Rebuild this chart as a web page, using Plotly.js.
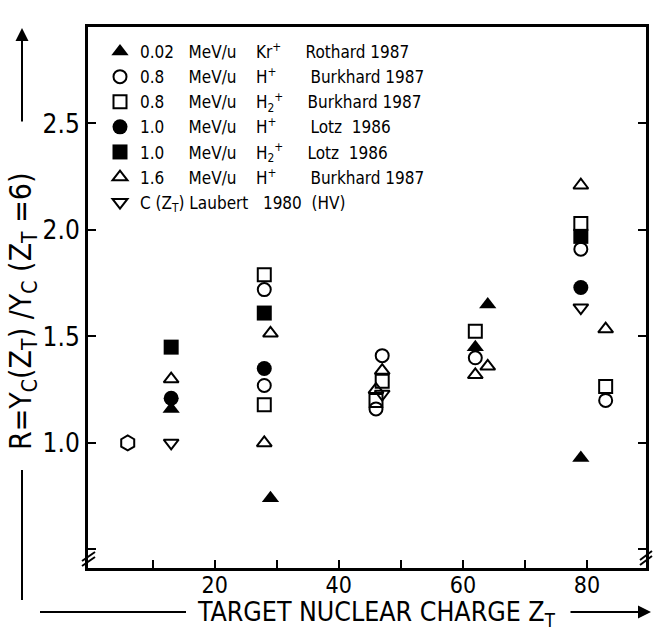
<!DOCTYPE html>
<html><head><meta charset="utf-8">
<script src="https://cdn.plot.ly/plotly-3.0.1.min.js"></script>
<style>html,body{margin:0;padding:0;background:#fff}</style>
</head><body><div id="chart" style="width:653px;height:633px"></div>
<script>
// ---- data (Z_T, R) ----
const krZ = [13, 29, 62, 64, 79];
const krR = [1.16, 0.74, 1.45, 1.65, 0.93];
const h08Z = [28, 28, 46, 47, 62, 79, 83];
const h08R = [1.27, 1.72, 1.16, 1.41, 1.40, 1.91, 1.20];
const h2_08Z = [28, 28, 46, 47, 62, 79, 83];
const h2_08R = [1.18, 1.79, 1.20, 1.29, 1.525, 2.03, 1.265];
const h10Z = [13, 28, 79];
const h10R = [1.21, 1.35, 1.73];
const h2_10Z = [13, 28, 79];
const h2_10R = [1.45, 1.61, 1.97];
const h16Z = [13, 28, 29, 46, 47, 62, 64, 79, 83];
const h16R = [1.30, 1.0, 1.515, 1.25, 1.34, 1.32, 1.36, 2.21, 1.535];
const laubZ = [13, 47, 79];
const laubR = [1.0, 1.23, 1.635];
const refZ = [6];
const refR = [1.0];

const NB = '\u00a0';
const sp = n => NB.repeat(n);
const seriesLabels = [
  '0.02' + sp(3) + 'MeV/u' + sp(4) + 'Kr<sup>+</sup>' + sp(5) + 'Rothard 1987',
  '0.8' + sp(5) + 'MeV/u' + sp(4) + 'H<sup>+</sup>' + sp(7) + 'Burkhard 1987',
  '0.8' + sp(5) + 'MeV/u' + sp(4) + 'H<sub>2</sub><sup>+</sup>' + sp(5) + 'Burkhard 1987',
  '1.0' + sp(5) + 'MeV/u' + sp(4) + 'H<sup>+</sup>' + sp(7) + 'Lotz' + sp(2) + '1986',
  '1.0' + sp(5) + 'MeV/u' + sp(4) + 'H<sub>2</sub><sup>+</sup>' + sp(5) + 'Lotz' + sp(2) + '1986',
  '1.6' + sp(5) + 'MeV/u' + sp(4) + 'H<sup>+</sup>' + sp(7) + 'Burkhard 1987',
  'C' + sp(1) + '(Z<sub>T</sub>)' + sp(1) + 'Laubert' + sp(3) + '1980' + sp(2) + '(HV)'
];
const xTickVals = [10, 20, 30, 40, 50, 60, 70, 80];
const xTickText = ['', '20', '', '40', '', '60', '', '80'];
const yTickVals = [0.5, 1.0, 1.5, 2.0, 2.5];
const yTickText = ['', '1.0', '1.5', '2.0', '2.5'];

const FONT = '"DejaVu Sans Condensed", "DejaVu Sans", sans-serif';

function tr(name, z, r, symbol, filled, show, size) {
  return {
    type: 'scatter', mode: 'markers', x: z, y: r, name: name, showlegend: show,
    hoverinfo: 'skip', cliponaxis: false,
    marker: { symbol: symbol, size: size || (filled ? 15 : 13), color: '#000',
      line: { color: '#000', width: filled ? 0 : 2 } }
  };
}

const data = [
  tr('ref', refZ, refR, 'hexagon-open', false, false, 15),
  tr(seriesLabels[0], krZ, krR, 'triangle-up', true, true),
  tr(seriesLabels[1], h08Z, h08R, 'circle-open', false, true),
  tr(seriesLabels[2], h2_08Z, h2_08R, 'square-open', false, true),
  tr(seriesLabels[3], h10Z, h10R, 'circle', true, true),
  tr(seriesLabels[4], h2_10Z, h2_10R, 'square', true, true),
  tr(seriesLabels[5], h16Z, h16R, 'triangle-up-open', false, true),
  tr(seriesLabels[6], laubZ, laubR, 'triangle-down-open', false, true)
];

// pixel -> paper helpers (plot area 88..646 x 27..568)
const L = 88, R = 646, T = 27, B = 568;
const PX = p => (p - L) / (R - L);
const PY = p => (B - p) / (B - T);

const layout = {
  width: 653, height: 633,
  margin: { l: L, r: 653 - R, t: T, b: 633 - B, pad: 0 },
  paper_bgcolor: '#fff', plot_bgcolor: '#fff',
  font: { family: FONT, color: '#000' },
  showlegend: true,
  legend: {
    x: PX(100), y: PY(34), xanchor: 'left', yanchor: 'top',
    bgcolor: 'rgba(0,0,0,0)', borderwidth: 0,
    font: { family: FONT, size: 17, color: '#000' },
    itemsizing: 'trace', tracegroupgap: 0
  },
  xaxis: {
    range: [-0.4, 89.5], tickmode: 'array', tickvals: xTickVals, ticktext: xTickText,
    ticks: 'inside', ticklen: 8, tickwidth: 2, tickcolor: '#000',
    showline: true, linewidth: 3, linecolor: '#000', mirror: true,
    showgrid: false, zeroline: false, ticklabelstandoff: -6,
    tickfont: { family: FONT, size: 23, color: '#000' }
  },
  yaxis: {
    range: [0.413, 2.953], tickmode: 'array', tickvals: yTickVals, ticktext: yTickText,
    ticks: 'inside', ticklen: 8, tickwidth: 2, tickcolor: '#000',
    showline: true, linewidth: 3, linecolor: '#000', mirror: 'allticks',
    showgrid: false, zeroline: false,
    tickfont: { family: FONT, size: 26, color: '#000' }
  },
  annotations: [
    { xref: 'paper', yref: 'paper', x: PX(377), y: PY(613), showarrow: false,
      text: 'TARGET NUCLEAR CHARGE Z<sub>T</sub>', xanchor: 'center', yanchor: 'middle',
      font: { family: FONT, size: 26.5, color: '#000' } },
    { xref: 'paper', yref: 'paper', x: PX(651), y: PY(612), ax: -82, ay: 0, text: '',
      showarrow: true, arrowhead: 2, arrowsize: 1.3, arrowwidth: 2, arrowcolor: '#000' },
    { xref: 'paper', yref: 'paper', x: PX(22), y: PY(311), showarrow: false, textangle: -90,
      text: 'R=Y<sub>C</sub>(Z<sub>T</sub>) /Y<sub>C</sub> (Z<sub>T</sub> =6)',
      xanchor: 'center', yanchor: 'middle',
      font: { family: FONT, size: 30, color: '#000' } },
    { xref: 'paper', yref: 'paper', x: PX(22), y: PY(28), ax: 0, ay: 95, text: '',
      showarrow: true, arrowhead: 2, arrowsize: 1.3, arrowwidth: 2, arrowcolor: '#000' }
  ],
  shapes: [
    { type: 'line', xref: 'paper', yref: 'paper', x0: PX(40), x1: PX(186), y0: PY(612), y1: PY(612),
      line: { color: '#000', width: 2 } },
    { type: 'line', xref: 'paper', yref: 'paper', x0: PX(22), x1: PX(22), y0: PY(600), y1: PY(470),
      line: { color: '#000', width: 2 } },
    // axis break marks
    { type: 'line', xref: 'paper', yref: 'paper', x0: PX(82), x1: PX(95), y0: PY(566), y1: PY(557),
      line: { color: '#000', width: 2 } },
    { type: 'line', xref: 'paper', yref: 'paper', x0: PX(82), x1: PX(95), y0: PY(561), y1: PY(552),
      line: { color: '#000', width: 2 } },
    { type: 'line', xref: 'paper', yref: 'paper', x0: PX(640), x1: PX(652), y0: PY(565), y1: PY(556),
      line: { color: '#000', width: 2 } },
    { type: 'line', xref: 'paper', yref: 'paper', x0: PX(640), x1: PX(652), y0: PY(560), y1: PY(551),
      line: { color: '#000', width: 2 } }
  ]
};

Plotly.newPlot('chart', data, layout, { displayModeBar: false, staticPlot: true });
</script></body></html>
